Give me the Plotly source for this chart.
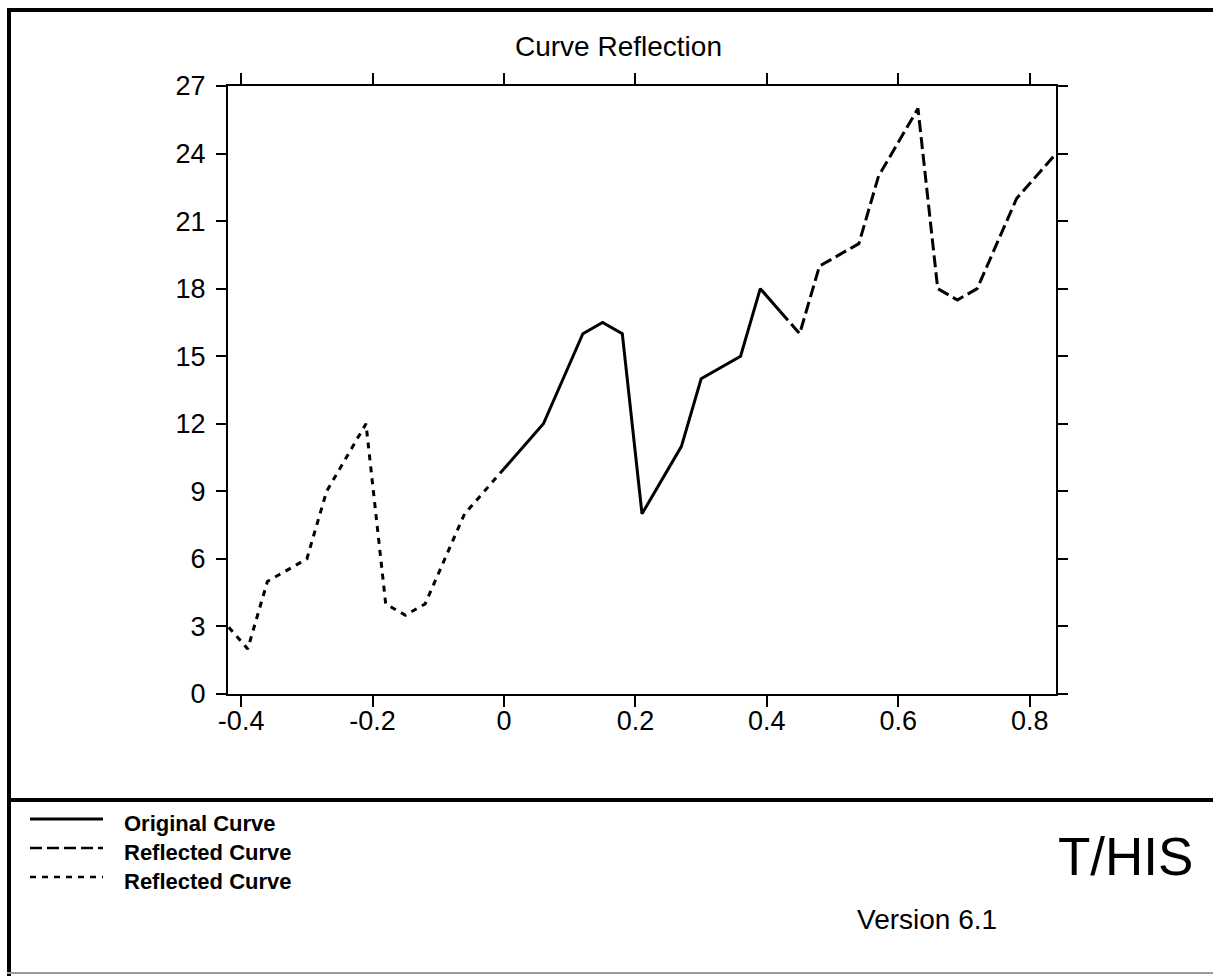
import plotly.graph_objects as go

# ---- data -------------------------------------------------------------
series_names = ["Original Curve", "Reflected Curve", "Reflected Curve"]

original_x = [0.0, 0.06, 0.12, 0.15, 0.18, 0.21, 0.27, 0.30, 0.36, 0.39, 0.42]
original_y = [10, 12, 16, 16.5, 16, 8, 11, 14, 15, 18, 17]

reflected_right_x = [0.42, 0.45, 0.48, 0.54, 0.57, 0.63, 0.66, 0.69, 0.72, 0.78, 0.84]
reflected_right_y = [17, 16, 19, 20, 23, 26, 18, 17.5, 18, 22, 24]

reflected_left_x = [0.0, -0.06, -0.12, -0.15, -0.18, -0.21, -0.27, -0.30, -0.36, -0.39, -0.42]
reflected_left_y = [10, 8, 4, 3.5, 4, 12, 9, 6, 5, 2, 3]

x_tickvals = [-0.4, -0.2, 0, 0.2, 0.4, 0.6, 0.8]
x_ticktext = ["-0.4", "-0.2", "0", "0.2", "0.4", "0.6", "0.8"]
y_tickvals = [0, 3, 6, 9, 12, 15, 18, 21, 24, 27]

title_text = "Curve Reflection"
brand_text = "T/HIS"
version_text = "Version 6.1"

# ---- page geometry (pixels) -------------------------------------------
W, H = 1213, 976
PL, PR, PT, PB = 228, 1056, 86, 694   # plot area edges


def fx(px):
    return (px - PL) / (PR - PL)


def fy(py):
    return (PB - py) / (PB - PT)


FONT = "Liberation Sans, Arial, Helvetica, sans-serif"
dash_styles = ["solid", "12px,5px", "6px,6px"]

fig = go.Figure()
for xs, ys, name, dash in [
    (original_x, original_y, series_names[0], dash_styles[0]),
    (reflected_right_x, reflected_right_y, series_names[1], dash_styles[1]),
    (reflected_left_x, reflected_left_y, series_names[2], dash_styles[2]),
]:
    fig.add_trace(go.Scatter(
        x=xs, y=ys, mode="lines", name=name,
        line=dict(color="black", width=3, dash=dash),
        showlegend=False, cliponaxis=True,
    ))

axis_common = dict(
    showline=True, linecolor="black", linewidth=2,
    mirror="allticks", ticks="outside", tickcolor="black", tickwidth=2,
    showgrid=False, zeroline=False,
    tickfont=dict(family=FONT, size=27, color="black"),
)

fig.update_xaxes(range=[-0.42, 0.84], tickvals=x_tickvals, ticktext=x_ticktext,
                 ticklen=11, ticklabelstandoff=-9, **axis_common)
fig.update_yaxes(range=[0, 27], tickvals=y_tickvals, ticklen=10,
                 ticklabelstandoff=5, **axis_common)

# ---- frame ------------------------------------------------------------
shapes = [
    dict(type="line", xref="paper", yref="paper", x0=fx(7), x1=fx(1230), y0=fy(10), y1=fy(10),
         line=dict(color="black", width=4)),
    dict(type="line", xref="paper", yref="paper", x0=fx(9), x1=fx(9), y0=fy(8), y1=fy(976),
         line=dict(color="black", width=4)),
    dict(type="line", xref="paper", yref="paper", x0=fx(7), x1=fx(1230), y0=fy(800), y1=fy(800),
         line=dict(color="black", width=4)),
    dict(type="line", xref="paper", yref="paper", x0=fx(7), x1=fx(1230), y0=fy(973), y1=fy(973),
         line=dict(color="#9a9a9a", width=2)),
]

# ---- key ----------------------------------------------------------------
key_rows = [819, 848, 877]
key_widths = [3, 2.5, 2.5]
annotations = []
for name, dash, row, lw in zip(series_names, dash_styles, key_rows, key_widths):
    shapes.append(dict(type="line", xref="paper", yref="paper",
                       x0=fx(30), x1=fx(103), y0=fy(row), y1=fy(row),
                       line=dict(color="black", width=lw, dash=dash)))
    annotations.append(dict(xref="paper", yref="paper", x=fx(122), y=fy(row + 4),
                            xanchor="left", yanchor="middle", showarrow=False,
                            text=name,
                            font=dict(family=FONT, size=22, color="black", weight="bold")))

annotations += [
    dict(xref="paper", yref="paper", x=fx(618), y=fy(47), xanchor="center", yanchor="middle",
         showarrow=False, text=title_text, font=dict(family=FONT, size=28, color="black")),
    dict(xref="paper", yref="paper", x=fx(1195), y=fy(856), xanchor="right", yanchor="middle",
         showarrow=False, text=brand_text, font=dict(family=FONT, size=53, color="black")),
    dict(xref="paper", yref="paper", x=fx(927), y=fy(919), xanchor="center", yanchor="middle",
         showarrow=False, text=version_text, font=dict(family=FONT, size=28, color="black")),
]

fig.update_layout(
    width=W, height=H,
    margin=dict(l=PL, r=W - PR, t=PT, b=H - PB, pad=0),
    paper_bgcolor="white", plot_bgcolor="white",
    showlegend=False,
    shapes=shapes, annotations=annotations,
    font=dict(family=FONT, color="black"),
)

fig.write_html("out.html")
